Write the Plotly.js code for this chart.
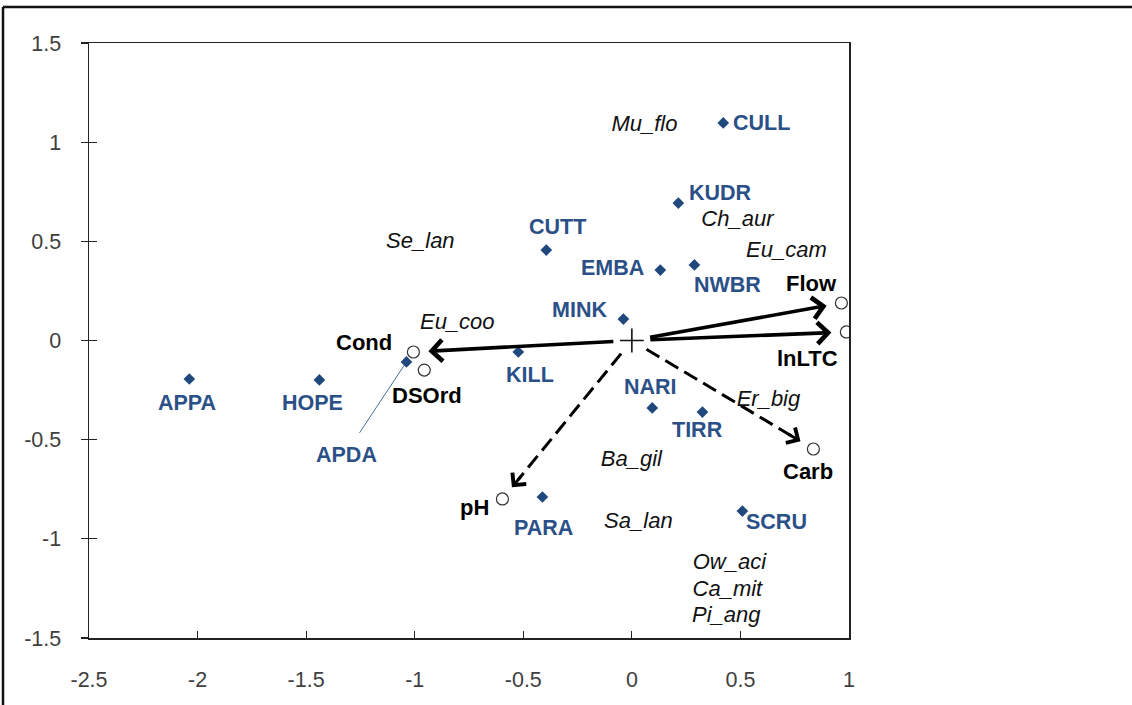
<!DOCTYPE html>
<html><head><meta charset="utf-8">
<script src="https://cdn.plot.ly/plotly-3.0.1.min.js"></script>
<style>html,body{margin:0;padding:0;background:#fff}#chart{width:1132px;height:705px}</style>
</head><body><div id="chart"></div>
<script>
// ---- Data ----
const siteNames = ['APPA','HOPE','APDA','KILL','MINK','CUTT','EMBA','NWBR','KUDR','CULL','NARI','TIRR','PARA','SCRU'];
const siteX = [-2.038,-1.439,-1.038,-0.523,-0.039,-0.394,0.131,0.288,0.214,0.421,0.094,0.325,-0.412,0.509];
const siteY = [-0.194,-0.199,-0.108,-0.058,0.108,0.456,0.355,0.381,0.693,1.097,-0.340,-0.361,-0.789,-0.860];

const envNames = ['Flow','lnLTC','Cond','DSOrd','Carb','pH'];
const envX = [0.965,0.988,-1.006,-0.956,0.836,-0.596];
const envY = [0.189,0.043,-0.058,-0.149,-0.547,-0.799];
const envArrow = ['solid','solid','solid','none','dash','dash'];

const speciesNames = ['Mu_flo','Se_lan','Ch_aur','Eu_cam','Eu_coo','Er_big','Ba_gil','Sa_lan','Ow_aci','Ca_mit','Pi_ang'];
const speciesX = [0.058,-0.974,0.486,0.712,-0.804,0.629,-0.002,0.030,0.449,0.440,0.435];
const speciesY = [1.086,0.492,0.603,0.451,0.088,-0.305,-0.603,-0.920,-1.122,-1.258,-1.394];

const xTickVals = [-2.5,-2,-1.5,-1,-0.5,0,0.5,1];
const xTickText = ['-2.5','-2','-1.5','-1','-0.5','0','0.5','1'];
const yTickVals = [-1.5,-1,-0.5,0,0.5,1,1.5];
const yTickText = ['-1.5','-1','-0.5','0','0.5','1','1.5'];

// ---- Styling / layout config ----
const W = 1132, H = 705;
const M = {l:89, r:283, t:43, b:67};
const plotW = W - M.l - M.r, plotH = H - M.t - M.b;
const xRange = [-2.5, 1], yRange = [-1.5, 1.5];
const PX_X = plotW / (xRange[1]-xRange[0]);
const PX_Y = plotH / (yRange[1]-yRange[0]);

// label pixel offsets (dx right, dy down) relative to their marker
const siteLabelOffset = {APPA:[-2,24],HOPE:[-7,23],APDA:[-60,93],KILL:[12,23],MINK:[-44,-9],CUTT:[11,-23],
  EMBA:[-48,-2],NWBR:[33,20],KUDR:[42,-10],CULL:[38,0],NARI:[-2,-21],TIRR:[-5,18],PARA:[1,31],SCRU:[34,11]};
const envLabelOffset = {Flow:[-30,-20],lnLTC:[-39,27],Cond:[-49,-10],DSOrd:[3,25],Carb:[-5,23],pH:[-28,9]};

const FONT = 'Liberation Sans, Arial, sans-serif';
const BLUE_MK = '#1F497D', BLUE_TX = '#2B5088';

const traces = [];
const annotations = [];
const shapes = [];

// APDA leader line
const iA = siteNames.indexOf('APDA');
traces.push({x:[siteX[iA], siteX[iA] - 47/PX_X], y:[siteY[iA], siteY[iA] - 71/PX_Y],
  mode:'lines', line:{color:'#4A6A9C', width:1}, hoverinfo:'skip', showlegend:false});

// dashed shafts
const START_OFF = 17, END_OFF = 15;
envNames.forEach((n,i)=>{
  if(envArrow[i] !== 'dash') return;
  const px = envX[i]*PX_X, py = envY[i]*PX_Y;
  const L = Math.hypot(px,py);
  const f0 = START_OFF/L, f1 = (L-END_OFF-10)/L;
  traces.push({x:[envX[i]*f0, envX[i]*f1], y:[envY[i]*f0, envY[i]*f1], mode:'lines',
    line:{color:'#000', width:3, dash:'15px,7px'}, hoverinfo:'skip', showlegend:false});
});

// sites
traces.push({x:siteX, y:siteY, mode:'markers', marker:{symbol:'diamond', size:9, color:BLUE_MK},
  text:siteNames, hoverinfo:'text', showlegend:false});
// env circles
traces.push({x:envX, y:envY, mode:'markers', marker:{symbol:'circle-open', size:12, color:'#333', line:{width:1.2, color:'#333'}},
  text:envNames, hoverinfo:'text', showlegend:false});
// origin
traces.push({x:[0], y:[0], mode:'markers', marker:{symbol:'cross-thin', size:17, color:'#111', line:{width:1.6, color:'#111'}},
  hoverinfo:'skip', showlegend:false});
// species
traces.push({x:speciesX, y:speciesY, mode:'text', text:speciesNames.map(s=>'<i>'+s+'</i>'),
  textfont:{family:FONT, size:22, color:'#111'}, textposition:'middle center', hoverinfo:'skip', showlegend:false});
// dummy for inner y ticks
traces.push({x:[], y:[], yaxis:'y2', showlegend:false, hoverinfo:'skip'});

// arrows
envNames.forEach((n,i)=>{
  if(envArrow[i] === 'none') return;
  const dashed = envArrow[i] === 'dash';
  const L = Math.hypot(envX[i]*PX_X, envY[i]*PX_Y);
  annotations.push({x:envX[i], y:envY[i], xref:'x', yref:'y', ax:0, ay:0, axref:'x', ayref:'y',
    text:'', showarrow:true, arrowhead:4, arrowsize:1.15, arrowwidth: dashed?3:3.6, arrowcolor:'#000',
    standoff:END_OFF, startstandoff: dashed ? (L-END_OFF-16) : START_OFF});
});

// site labels
siteNames.forEach((n,i)=>{
  const o = siteLabelOffset[n];
  annotations.push({x:siteX[i], y:siteY[i], xref:'x', yref:'y', text:'<b>'+n+'</b>', showarrow:false,
    xshift:o[0], yshift:-o[1], xanchor:'center', yanchor:'middle', font:{family:FONT, size:21.5, color:BLUE_TX}});
});
// env labels
envNames.forEach((n,i)=>{
  const o = envLabelOffset[n];
  annotations.push({x:envX[i], y:envY[i], xref:'x', yref:'y', text:'<b>'+n+'</b>', showarrow:false,
    xshift:o[0], yshift:-o[1], xanchor:'center', yanchor:'middle', font:{family:FONT, size:22, color:'#000'}});
});

// outer frame (top and left edges)
const pxToPaperX = p => (p - M.l)/plotW;
const pxToPaperY = p => (H - M.b - p)/plotH;
shapes.push({type:'line', xref:'paper', yref:'paper', x0:pxToPaperX(3), x1:pxToPaperX(W), y0:pxToPaperY(7), y1:pxToPaperY(7), line:{color:'#111', width:2.5}});
shapes.push({type:'line', xref:'paper', yref:'paper', x0:pxToPaperX(3), x1:pxToPaperX(3), y0:pxToPaperY(7), y1:pxToPaperY(H), line:{color:'#111', width:2.5}});

const tickFont = {family:FONT, size:21.5, color:'#404040'};
const layout = {
  width:W, height:H, autosize:false, margin:M,
  paper_bgcolor:'#fff', plot_bgcolor:'#fff', showlegend:false,
  xaxis:{range:xRange, tickvals:xTickVals, ticktext:xTickText, ticks:'inside', ticklen:7, tickwidth:1.2, tickcolor:'#222',
    showline:true, mirror:true, linecolor:'#222', linewidth:1.5, showgrid:false, zeroline:false,
    tickfont:tickFont, ticklabelstandoff:22, fixedrange:true},
  yaxis:{range:yRange, tickvals:yTickVals, ticktext:yTickText, ticks:'outside', ticklen:7, tickwidth:1.2, tickcolor:'#222',
    showline:true, mirror:true, linecolor:'#222', linewidth:1.5, showgrid:false, zeroline:false,
    tickfont:tickFont, ticklabelstandoff:15, fixedrange:true},
  yaxis2:{range:yRange, overlaying:'y', side:'left', tickvals:yTickVals, ticks:'inside', ticklen:8, tickwidth:1.2, tickcolor:'#222',
    showticklabels:false, showline:false, showgrid:false, zeroline:false, fixedrange:true},
  annotations:annotations, shapes:shapes
};
Plotly.newPlot('chart', traces, layout, {displayModeBar:false, staticPlot:true});
</script>
</body></html>
